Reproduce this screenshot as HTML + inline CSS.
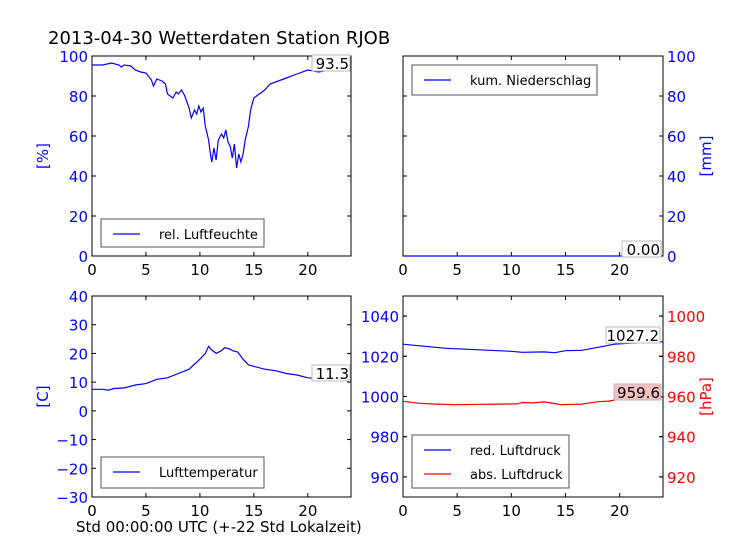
<!DOCTYPE html>
<html><head><meta charset="utf-8"><style>
body{margin:0;background:#fff}
svg{display:block;font-family:"DejaVu Sans","Liberation Sans",sans-serif}
</style></head><body>
<svg id="c" width="736" height="552" viewBox="0 0 736 552">
<rect width="736" height="552" fill="#fff"/>
<text x="48" y="44" font-size="18">2013-04-30 Wetterdaten Station RJOB</text>
<text x="76" y="532" font-size="15">Std 00:00:00 UTC (+-22 Std Lokalzeit)</text>
</svg>
<script>
const humT=[0,1,1.8,2.5,2.7,3,3.6,4,4.5,5,5.5,5.7,6,6.5,6.8,7,7.5,7.8,8,8.3,8.6,9,9.2,9.5,9.7,9.9,10.1,10.3,10.5,10.8,11,11.1,11.3,11.5,11.7,12,12.2,12.4,12.6,12.8,13,13.2,13.4,13.6,13.8,14,14.2,14.5,14.7,15,15.5,16,16.5,17,18,19,20,21,22,22.5,24];
const humV=[95.5,95.5,96.5,95.5,94.5,95.5,95,93,92,91.5,88,85,88.5,87.5,86,81,79,82,81,83,80,74,69,73,71,75,72,74,65,58,50,47,54,48,58,61,59,63,57,55,49,56,44,51,47,51,58,65,73,79,81,83,86,87,89,91,93,92,93,94,93.5];
const rainT=[0,24];
const rainV=[0,0];
const tempT=[0,1,1.5,2,3,4,5,6,7,8,9,10,10.5,10.8,11,11.5,12,12.3,12.8,13,13.5,14,14.5,15,16,17,18,19,20,21,22,24];
const tempV=[7.5,7.5,7.2,7.8,8,9,9.5,11,11.5,13,14.5,18,20,22.5,21.5,20,21,22,21.5,21,20.5,18,16,15.5,14.5,14,13,12.5,11.5,11.3,11.5,11.3];
const redT=[0,2,4,6,8,10,11,13,14,15,16.5,18,19.5,21,24];
const redV=[1026,1025,1024,1023.5,1023,1022.5,1022,1022.2,1021.8,1022.8,1023,1024.5,1026,1026.5,1027.2];
const absT=[0,1.5,3,5,7,9,10.5,11,12,13,14,14.5,16.5,18,19,20,22,24];
const absV=[957.6,956.6,956.2,955.9,956.1,956.2,956.3,957,956.8,957.3,956.5,955.9,956.2,957.4,957.7,958.7,959.2,959.6];
const xTicks=[0,5,10,15,20];
const humTicks=[0,20,40,60,80,100];
const tempTicks=[-30,-20,-10,0,10,20,30,40];
const redTicks=[960,980,1000,1020,1040];
const absTicks=[920,940,960,980,1000];

const svg=document.getElementById('c');const NS='http://www.w3.org/2000/svg';
function el(t,a,txt){const e=document.createElementNS(NS,t);for(const k in a)e.setAttribute(k,a[k]);if(txt!==undefined)e.textContent=txt;svg.appendChild(e);return e;}
function lin(d0,d1,r0,r1){return v=>r0+(v-d0)/(d1-d0)*(r1-r0);}
function fmt(t){return t<0?'\u2212'+(-t):String(t);}
function axes(name,x0,x1,y0,y1,ymin,ymax,yt,side,col,lab){
  const X=lin(0,24,x0,x1),Y=lin(ymin,ymax,y1,y0);
  const f=el('rect',{x:x0,y:y0,width:x1-x0,height:y1-y0,fill:'none',stroke:'#000','stroke-width':1});
  
  xTicks.forEach(t=>{const x=X(t);
    el('line',{x1:x,x2:x,y1:y1,y2:y1-4,stroke:'#000'});el('line',{x1:x,x2:x,y1:y0,y2:y0+4,stroke:'#000'});
    const tx=el('text',{x:x,y:y1+19,'font-size':15,'text-anchor':'middle'},t);
    });
  if(yt) ytick(name,x0,x1,Y,yt,side,col,lab);
  return {X,Y};
}
function ytick(name,x0,x1,Y,yt,side,col,lab){
  yt.forEach(t=>{const y=Y(t);
    el('line',{x1:x0,x2:x0+4,y1:y,y2:y,stroke:'#000'});el('line',{x1:x1,x2:x1-4,y1:y,y2:y,stroke:'#000'});
    const tx=side==='l'?el('text',{x:x0-4,y:y+6,'font-size':15,'text-anchor':'end',fill:col},fmt(t)):el('text',{x:x1+4,y:y+6,'font-size':15,fill:col},fmt(t));
    });
  if(lab){const yc=(Y(yt[0])+Y(yt[yt.length-1]))/2;const lx=side==='l'?x0-44:x1+48;
    const tx=el('text',{x:lx,y:yc,'font-size':15,'text-anchor':'middle',fill:col,transform:`rotate(-90 ${lx} ${yc})`},lab);
    }
}
function line(name,A,T,V,col){const d=T.map((t,i)=>(i?'L':'M')+A.X(t).toFixed(1)+','+A.Y(V[i]).toFixed(1)).join('');
  const p=el('path',{d:d,fill:'none',stroke:col,'stroke-width':1.2});}
function legend(name,x,y,w,h,items){const r=el('rect',{x:x,y:y,width:w,height:h,fill:'#fff',stroke:'#555','stroke-width':1});
  
  items.forEach((it,i)=>{const yy=y+15+i*24;el('line',{x1:x+12,x2:x+39,y1:yy,y2:yy,stroke:it[1],'stroke-width':1.2});
    const t=el('text',{x:x+58,y:yy+5,'font-size':13},it[0]);});}
function vlabel(name,x,y,w,txt,bg){el('rect',{x:x,y:y,width:w,height:16,fill:bg,stroke:'#bbb'});
  const t=el('text',{x:x+w-1,y:y+14,'font-size':15,'text-anchor':'end'},txt);}

const A1=axes('humidity-plot',92,351,56,256,0,100,humTicks,'l','#00f','[%]');
line('humidity-line',A1,humT,humV,'#00f');
legend('humidity-legend',101,219,163,28,[['rel. Luftfeuchte','#00f']]);
vlabel('humidity-last-value',312,55,38,'93.5','#fff');

const A2=axes('rain-plot',403,663,56,256,0,100,humTicks,'r','#00f','[mm]');
line('rain-line',A2,rainT,rainV,'#00f');
legend('rain-legend',412,65,185,30,[['kum. Niederschlag','#00f']]);
vlabel('rain-last-value',622,241,39,'0.00','#fff');

const A3=axes('temperature-plot',92,351,296,497,-30,40,tempTicks,'l','#00f','[C]');
line('temperature-line',A3,tempT,tempV,'#00f');
legend('temperature-legend',101,457,163,31,[['Lufttemperatur','#00f']]);
vlabel('temperature-last-value',312,365,38,'11.3','#fff');

const A4=axes('pressure-plot',403,663,296,497,950,1050,redTicks,'l','#00f',null);
const Yabs=lin(910,1010,497,296);
ytick('pressure-abs',403,663,Yabs,absTicks,'r','#f00','[hPa]');
line('red-pressure-line',A4,redT,redV,'#00f');
line('abs-pressure-line',{X:A4.X,Y:Yabs},absT,absV,'#f00');
legend('pressure-legend',412,435,157,53,[['red. Luftdruck','#00f'],['abs. Luftdruck','#f00']]);
vlabel('red-pressure-last-value',606,327,54,'1027.2','#fff');
vlabel('abs-pressure-last-value',614,384,47,'959.6','#f4c0c0');
</script>
</body></html>
